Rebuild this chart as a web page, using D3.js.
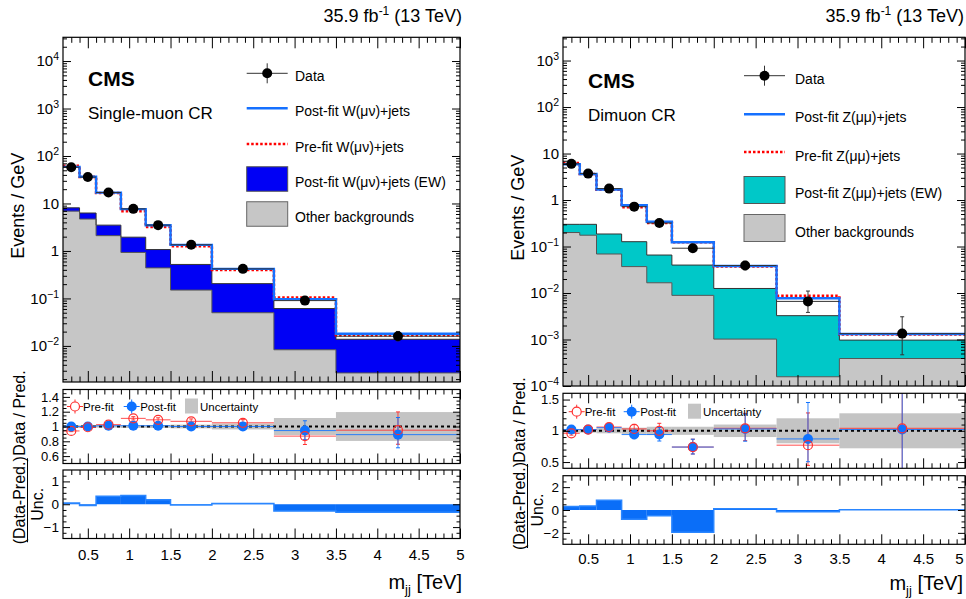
<!DOCTYPE html>
<html>
<head>
<meta charset="utf-8">
<script src="https://cdn.jsdelivr.net/npm/d3@7"></script>
<style>
  body { margin: 0; background: #fff; }
  svg { font-family: "Liberation Sans", Arial, Helvetica, sans-serif; display: block; }
</style>
</head>
<body>
<svg id="chart" width="966" height="599"></svg>
<script>
// ---- binning (TeV) ----
const binEdges   = [0.2, 0.4, 0.6, 0.9, 1.2, 1.5, 2.0, 2.75, 3.5, 5.0];
const binCenters = [0.3, 0.5, 0.75, 1.05, 1.35, 1.75, 2.375, 3.125, 4.25];
const xMajorTicks = [0.5, 1, 1.5, 2, 2.5, 3, 3.5, 4, 4.5, 5];
const xTickLabels = ["0.5", "1", "1.5", "2", "2.5", "3", "3.5", "4", "4.5", "5"];

// ---- single-muon control region (events / GeV) ----
const muData      = [58, 36, 17, 7.7, 3.5, 1.35, 0.42, 0.090, 0.016];
const muDataErrLo = [0.01, 0.012, 0.015, 0.02, 0.025, 0.03, 0.04, 0.13, 0.20];   // relative
const muDataErrHi = [0.01, 0.012, 0.015, 0.02, 0.025, 0.03, 0.04, 0.14, 0.26];   // relative
const muPostFit   = [59, 36.5, 16.9, 7.6, 3.47, 1.34, 0.42, 0.096, 0.018];
const muPreFit    = [62, 36.4, 16.6, 6.9, 3.2, 1.26, 0.40, 0.104, 0.0168];
const muEwk       = [1.2, 1.6, 1.4, 1.02, 0.63, 0.37, 0.155, 0.053, 0.0111];
const muOther     = [6.9, 4.7, 2.1, 0.93, 0.44, 0.15, 0.050, 0.0083, 0.0027];
const muRatioPost = [1.0, 1.0, 1.01, 1.01, 1.01, 1.0, 1.0, 0.945, 0.89];
const muRatioPre  = [0.94, 0.99, 1.025, 1.11, 1.09, 1.07, 1.05, 0.87, 0.95];
const muUnc       = [0.02, 0.015, 0.015, 0.02, 0.02, 0.025, 0.04, 0.115, 0.195];
const muPull      = [0.05, -0.05, 0.35, 0.38, 0.2, -0.03, 0.03, -0.3, -0.35];

// ---- dimuon control region (events / GeV) ----
const mmData      = [6.0, 3.7, 1.76, 0.72, 0.32, 0.092, 0.039, 0.0066, 0.00134];
const mmDataErrLo = [0.03, 0.04, 0.05, 0.07, 0.11, 0.15, 0.19, 0.42, 0.65];
const mmDataErrHi = [0.03, 0.04, 0.05, 0.07, 0.12, 0.17, 0.23, 0.67, 1.3];
const mmPostFit   = [5.9, 3.63, 1.68, 0.77, 0.34, 0.124, 0.038, 0.0077, 0.00131];
const mmPreFit    = [6.25, 3.63, 1.66, 0.70, 0.32, 0.124, 0.0375, 0.0087, 0.00129];
const mmEwk       = [0.10, 0.125, 0.117, 0.09, 0.049, 0.031, 0.0115, 0.0031, 0.00058];
const mmOther     = [0.20, 0.175, 0.069, 0.037, 0.0166, 0.0089, 0.00102, 0.000158, 0.00039];
const mmRatioPost = [1.02, 1.02, 1.05, 0.94, 0.94, 0.74, 1.03, 0.87, 1.02];
const mmRatioPre  = [0.96, 1.02, 1.06, 1.03, 1.0, 0.74, 1.04, 0.77, 1.04];
const mmUnc       = [0.03, 0.03, 0.04, 0.05, 0.065, 0.065, 0.1, 0.2, 0.28];
const mmPull      = [0.3, 0.35, 0.85, -0.8, -0.5, -1.95, 0.12, -0.15, 0.02];

const svg = d3.select("#chart");
let clipId = 0;

function stepPoints(vals) {
  return binEdges.map((e, i) => ({ x: e, v: vals[Math.min(i, vals.length - 1)] }));
}

function addClip(x0, y0, x1, y1) {
  const id = "clip" + (clipId++);
  svg.append("clipPath").attr("id", id)
    .append("rect").attr("x", x0).attr("y", y0).attr("width", x1 - x0).attr("height", y1 - y0);
  return "url(#" + id + ")";
}

// inward ticks on all four sides of a frame
function frameTicks(g, x, y, box, o) {
  const [x0, y0, x1, y1] = box;
  const strip = s => s.select(".domain").remove();
  const style = s => s.selectAll("line").attr("stroke", "#000").attr("stroke-width", 1);
  g.append("g").attr("transform", `translate(0,${y1})`)
    .call(d3.axisBottom(x).tickValues(xMajorTicks).tickSize(-o.xMaj).tickFormat(""))
    .call(strip).call(style);
  g.append("g").attr("transform", `translate(0,${y1})`)
    .call(d3.axisBottom(x).tickValues(o.xMinor).tickSize(-o.xMin).tickFormat(""))
    .call(strip).call(style);
  g.append("g").attr("transform", `translate(0,${y0})`)
    .call(d3.axisTop(x).tickValues(xMajorTicks).tickSize(-o.xMaj).tickFormat(""))
    .call(strip).call(style);
  g.append("g").attr("transform", `translate(0,${y0})`)
    .call(d3.axisTop(x).tickValues(o.xMinor).tickSize(-o.xMin).tickFormat(""))
    .call(strip).call(style);
  g.append("g").attr("transform", `translate(${x1},0)`)
    .call(d3.axisRight(y).tickValues(o.yMajor).tickSize(-o.yMaj).tickFormat(""))
    .call(strip).call(style);
  g.append("g").attr("transform", `translate(${x1},0)`)
    .call(d3.axisRight(y).tickValues(o.yMinor).tickSize(-o.yMin).tickFormat(""))
    .call(strip).call(style);
  g.append("g").attr("transform", `translate(${x0},0)`)
    .call(d3.axisLeft(y).tickValues(o.yMinor).tickSize(-o.yMin).tickFormat(""))
    .call(strip).call(style);
  const left = g.append("g").attr("transform", `translate(${x0},0)`)
    .call(d3.axisLeft(y).tickValues(o.yMajor).tickSize(-o.yMaj).tickPadding(o.yPad).tickFormat(o.yFormat || ""))
    .call(strip).call(style);
  left.selectAll("text").attr("fill", "#000").attr("font-size", o.yFont || 13)
    .attr("font-family", "Liberation Sans, Arial, sans-serif");
  g.append("rect").attr("x", x0).attr("y", y0).attr("width", x1 - x0).attr("height", y1 - y0)
    .attr("fill", "none").attr("stroke", "#000").attr("stroke-width", 1.2);
  return left;
}

const xMinorTicks = d3.range(3, 50).map(i => i / 10).filter(v => Math.abs(v * 2 - Math.round(v * 2)) > 1e-6);

function drawRegion(c) {
  const x = d3.scaleLinear().domain([binEdges[0], binEdges[binEdges.length - 1]]).range([c.x0, c.x1]);
  const g = svg.append("g");

  // ================= upper panel: stacked backgrounds, fit curves, data =================
  const [t0, t1] = c.top;
  const y = d3.scaleLog().domain(c.topDomain).range([t1, t0]);
  const gt = g.append("g").attr("clip-path", addClip(c.x0, t0, c.x1, t1));

  const stackTop = c.other.map((v, i) => v + c.ewk[i]);
  const areaFrom = (lowFn, vals) => d3.area().curve(d3.curveStepAfter)
    .x(d => x(d.x)).y0((d, i) => lowFn(i)).y1(d => y(d.v))(stepPoints(vals));
  const stepLine = vals => d3.line().curve(d3.curveStepAfter).x(d => x(d.x)).y(d => y(d.v))(stepPoints(vals));

  gt.append("path").attr("d", areaFrom(() => t1 + 5, c.other)).attr("fill", "#c6c6c6");
  const otherPts = stepPoints(c.other);
  gt.append("path").attr("d", areaFrom(i => y(otherPts[i].v), stackTop)).attr("fill", c.ewkColor);
  gt.append("path").attr("d", stepLine(stackTop)).attr("fill", "none").attr("stroke", "#333").attr("stroke-width", 1);
  gt.append("path").attr("d", stepLine(c.other)).attr("fill", "none").attr("stroke", "#555").attr("stroke-width", 1);

  gt.append("path").attr("d", stepLine(c.pre)).attr("fill", "none")
    .attr("stroke", "#ff0000").attr("stroke-width", 2.6).attr("stroke-dasharray", "2.5,2");
  gt.append("path").attr("d", stepLine(c.post)).attr("fill", "none")
    .attr("stroke", "#1570ff").attr("stroke-width", 2.4);

  const gd = gt.append("g");
  c.data.forEach((v, i) => {
    const cx = x(binCenters[i]);
    const yl = y(v * (1 - c.errLo[i])), yh = y(v * (1 + c.errHi[i]));
    gd.append("line").attr("x1", x(binEdges[i])).attr("x2", x(binEdges[i + 1]))
      .attr("y1", y(v)).attr("y2", y(v)).attr("stroke", "#333").attr("stroke-width", 1);
    gd.append("line").attr("x1", cx).attr("x2", cx).attr("y1", yl).attr("y2", yh)
      .attr("stroke", "#333").attr("stroke-width", 1);
    [yl, yh].forEach(yy => gd.append("line").attr("x1", cx - 2).attr("x2", cx + 2)
      .attr("y1", yy).attr("y2", yy).attr("stroke", "#333").attr("stroke-width", 1));
    gd.append("circle").attr("cx", cx).attr("cy", y(v)).attr("r", 5).attr("fill", "#000");
  });

  const lo = Math.floor(Math.log10(c.topDomain[0])), hi = Math.ceil(Math.log10(c.topDomain[1]));
  const decades = d3.range(lo, hi + 1).map(k => Math.pow(10, k)).filter(v => v >= c.topDomain[0] * 0.999 && v <= c.topDomain[1]);
  const logMinor = [];
  d3.range(lo, hi + 1).forEach(k => { for (let m = 2; m <= 9; m++) { const v = m * Math.pow(10, k); if (v > c.topDomain[0] && v < c.topDomain[1]) logMinor.push(v); } });
  const topAxis = frameTicks(g, x, y, [c.x0, t0, c.x1, t1], {
    xMaj: 11, xMin: 5.5, xMinor: xMinorTicks, yMajor: decades, yMinor: logMinor,
    yMaj: 8, yMin: 4, yPad: 4, yFont: 15, yFormat: () => "x"
  });
  topAxis.selectAll(".tick text").each(function (d) {
    const k = Math.round(Math.log10(d));
    const t = d3.select(this).text(null);
    if (k === 0) t.text("1");
    else if (k === 1) t.text("10");
    else {
      t.append("tspan").text("10");
      t.append("tspan").attr("dy", "-6").attr("font-size", 10.5).text(k < 0 ? "\u2212" + (-k) : String(k));
    }
  });

  // luminosity title, CMS label, legend
  const title = g.append("text").attr("x", c.titleX).attr("y", 22).attr("text-anchor", "end")
    .attr("font-size", 18).attr("fill", "#000");
  title.append("tspan").text("35.9 fb");
  title.append("tspan").attr("dy", -7).attr("font-size", 12).text("-1");
  title.append("tspan").attr("dy", 7).text(" (13 TeV)");

  g.append("text").attr("x", c.x0 + 25).attr("y", c.cmsY).attr("font-size", 21).attr("font-weight", "bold").text("CMS");
  g.append("text").attr("x", c.x0 + 25).attr("y", c.cmsY + 32.5).attr("font-size", 17).text(c.region);

  g.append("text").attr("transform", `translate(${c.x0 - 45},${(t0 + t1) / 2 - 4}) rotate(-90)`)
    .attr("text-anchor", "middle").attr("dominant-baseline", "central").attr("font-size", 18).text("Events / GeV");

  const L = c.leg;
  const lg = g.append("g");
  const lx0 = L.x, lx1 = L.x + 41;
  lg.append("line").attr("x1", lx0).attr("x2", lx1).attr("y1", L.ys[0]).attr("y2", L.ys[0]).attr("stroke", "#333");
  lg.append("line").attr("x1", (lx0 + lx1) / 2).attr("x2", (lx0 + lx1) / 2).attr("y1", L.ys[0] - 10).attr("y2", L.ys[0] + 10).attr("stroke", "#333");
  lg.append("circle").attr("cx", (lx0 + lx1) / 2).attr("cy", L.ys[0]).attr("r", 5).attr("fill", "#000");
  lg.append("line").attr("x1", lx0).attr("x2", lx1).attr("y1", L.ys[1]).attr("y2", L.ys[1]).attr("stroke", "#1570ff").attr("stroke-width", 2.4);
  lg.append("line").attr("x1", lx0).attr("x2", lx1).attr("y1", L.ys[2]).attr("y2", L.ys[2]).attr("stroke", "#ff0000").attr("stroke-width", 2.6).attr("stroke-dasharray", "2.5,2");
  lg.append("rect").attr("x", lx0).attr("y", L.ys[3] - L.boxH / 2).attr("width", 41).attr("height", L.boxH).attr("fill", c.ewkColor).attr("stroke", "#555");
  lg.append("rect").attr("x", lx0).attr("y", L.ys[4] - L.boxH / 2).attr("width", 41).attr("height", L.boxH).attr("fill", "#c6c6c6").attr("stroke", "#666");
  c.legendLabels.forEach((s, i) => lg.append("text").attr("x", L.tx).attr("y", L.ty[i] + 5)
    .attr("font-size", 14).text(s));

  // ================= ratio panel =================
  const [r0, r1] = c.ratio;
  const yr = d3.scaleLinear().domain(c.ratioDomain).range([r1, r0]);
  const gr = g.append("g").attr("clip-path", addClip(c.x0, r0, c.x1, r1));
  c.unc.forEach((u, i) => gr.append("rect").attr("x", x(binEdges[i])).attr("width", x(binEdges[i + 1]) - x(binEdges[i]))
    .attr("y", yr(1 + u)).attr("height", yr(1 - u) - yr(1 + u)).attr("fill", "#c4c4c4"));
  gr.append("line").attr("x1", c.x0).attr("x2", c.x1).attr("y1", yr(1)).attr("y2", yr(1))
    .attr("stroke", "#000").attr("stroke-width", 2).attr("stroke-dasharray", "3,3");

  function ratioBars(vals, color) {
    vals.forEach((r, i) => {
      const cx = x(binCenters[i]);
      const ylo = yr(r * (1 - c.errLo[i])), yhi = yr(r * (1 + c.errHi[i]));
      gr.append("line").attr("x1", x(binEdges[i])).attr("x2", x(binEdges[i + 1])).attr("y1", yr(r)).attr("y2", yr(r))
        .attr("stroke", color).attr("stroke-width", 1).attr("opacity", 0.85);
      gr.append("line").attr("x1", cx).attr("x2", cx).attr("y1", ylo).attr("y2", yhi)
        .attr("stroke", color).attr("stroke-width", 1).attr("opacity", 0.85);
      [ylo, yhi].forEach(yy => gr.append("line").attr("x1", cx - 2).attr("x2", cx + 2).attr("y1", yy).attr("y2", yy)
        .attr("stroke", color).attr("stroke-width", 1));
    });
  }
  function ratioMarkers(vals, color, open) {
    vals.forEach((r, i) => gr.append("circle").attr("cx", x(binCenters[i])).attr("cy", yr(r)).attr("r", open ? 4.5 : 5)
      .attr("fill", open ? "none" : color).attr("stroke", open ? color : "none").attr("stroke-width", 1.2));
  }
  ratioBars(c.ratioPre, "#ff3030");
  ratioBars(c.ratioPost, "#0f72ff");
  ratioMarkers(c.ratioPost, "#0f72ff", false);
  ratioMarkers(c.ratioPre, "#ff3030", true);

  frameTicks(g, x, yr, [c.x0, r0, c.x1, r1], {
    xMaj: 10, xMin: 5, xMinor: xMinorTicks, yMajor: c.ratioTicks, yMinor: c.ratioMinor,
    yMaj: 7, yMin: 3.5, yPad: 4, yFont: 13, yFormat: d => d === 1 ? "1" : d3.format(".1f")(d)
  });

  const RL = c.rleg;
  const rg = g.append("g").attr("font-size", 11.5);
  rg.append("line").attr("x1", RL.preX - 8).attr("x2", RL.preX + 8).attr("y1", RL.y).attr("y2", RL.y).attr("stroke", "#ff3030");
  rg.append("line").attr("x1", RL.preX).attr("x2", RL.preX).attr("y1", RL.y - 7).attr("y2", RL.y + 7).attr("stroke", "#ff3030");
  rg.append("circle").attr("cx", RL.preX).attr("cy", RL.y).attr("r", 4.5).attr("fill", "#fff").attr("stroke", "#ff3030").attr("stroke-width", 1.2);
  rg.append("text").attr("x", RL.preX + 8).attr("y", RL.y + 4).text("Pre-fit");
  rg.append("line").attr("x1", RL.postX - 8).attr("x2", RL.postX + 8).attr("y1", RL.y).attr("y2", RL.y).attr("stroke", "#0f72ff");
  rg.append("line").attr("x1", RL.postX).attr("x2", RL.postX).attr("y1", RL.y - 7).attr("y2", RL.y + 7).attr("stroke", "#0f72ff");
  rg.append("circle").attr("cx", RL.postX).attr("cy", RL.y).attr("r", 5).attr("fill", "#0f72ff");
  rg.append("text").attr("x", RL.postX + 8.5).attr("y", RL.y + 4).text("Post-fit");
  rg.append("rect").attr("x", RL.uncX).attr("y", RL.y - 8).attr("width", 13).attr("height", 15).attr("fill", "#c4c4c4");
  rg.append("text").attr("x", RL.uncX + 15).attr("y", RL.y + 4).text("Uncertainty");

  // ================= pull panel =================
  const [p0, p1] = c.pull;
  const yp = d3.scaleLinear().domain(c.pullDomain).range([p1, p0]);
  const gp = g.append("g").attr("clip-path", addClip(c.x0, p0, c.x1, p1));
  c.pullVals.forEach((v, i) => gp.append("rect").attr("x", x(binEdges[i])).attr("width", x(binEdges[i + 1]) - x(binEdges[i]))
    .attr("y", Math.min(yp(0), yp(v))).attr("height", Math.abs(yp(v) - yp(0))).attr("fill", "#0a6ef8"));
  gp.append("path").attr("d", d3.line().curve(d3.curveStepAfter).x(d => x(d.x)).y(d => yp(d.v))(stepPoints(c.pullVals)))
    .attr("fill", "none").attr("stroke", "#2a86ff").attr("stroke-width", 1.5);

  frameTicks(g, x, yp, [c.x0, p0, c.x1, p1], {
    xMaj: 10, xMin: 5, xMinor: xMinorTicks, yMajor: c.pullTicks, yMinor: c.pullMinor,
    yMaj: 7, yMin: 3.5, yPad: 4, yFont: 13.5, yFormat: d3.format("d")
  });

  // x tick labels (a label at the page edge is pulled inside)
  const xl = g.append("g").attr("transform", `translate(0,${p1})`)
    .call(d3.axisBottom(x).tickValues(xMajorTicks).tickSize(0).tickPadding(c.xLabelPad)
      .tickFormat((d, i) => xTickLabels[i]));
  xl.select(".domain").remove();
  xl.selectAll("text").attr("font-size", 15).attr("fill", "#000").attr("font-family", "Liberation Sans, Arial, sans-serif");
  xl.selectAll(".tick text").filter(d => x(d) + 5 > 964).attr("text-anchor", "end").attr("dx", 963 - x(5));

  const xt = g.append("text").attr("x", Math.min(c.x1 + 2, 963)).attr("y", c.xTitleY).attr("text-anchor", "end").attr("font-size", 20);
  xt.append("tspan").text("m");
  xt.append("tspan").attr("dy", 5).attr("font-size", 13).text("jj");
  xt.append("tspan").attr("dy", -5).text(" [TeV]");

  // ratio / pull axis titles
  const labX = c.x0 - 44;
  g.append("text").attr("transform", `translate(${labX},${c.ratioLabelY}) rotate(-90)`)
    .attr("text-anchor", "middle").attr("dominant-baseline", "central").attr("font-size", 16).text("Data / Pred.");
  g.append("text").attr("transform", `translate(${labX},${(p0 + p1) / 2 - 4}) rotate(-90)`)
    .attr("text-anchor", "middle").attr("dominant-baseline", "central").attr("font-size", 16).text("(Data-Pred.)");
  g.append("line").attr("x1", labX + 8.5).attr("x2", labX + 8.5).attr("y1", (p0 + p1) / 2 - 46).attr("y2", (p0 + p1) / 2 + 38)
    .attr("stroke", "#000").attr("stroke-width", 1);
  g.append("text").attr("transform", `translate(${labX + 18},${(p0 + p1) / 2}) rotate(-90)`)
    .attr("text-anchor", "middle").attr("dominant-baseline", "central").attr("font-size", 16).text("Unc.");
}

drawRegion({
  x0: 63, x1: 460, top: [37.3, 382], topDomain: [Math.pow(10, -2.76), Math.pow(10, 4.5)],
  ratio: [389.5, 463.5], ratioDomain: [0.5, 1.5], ratioTicks: [0.6, 0.8, 1, 1.2, 1.4],
  ratioMinor: [0.55, 0.65, 0.7, 0.75, 0.85, 0.9, 0.95, 1.05, 1.1, 1.15, 1.25, 1.3, 1.35, 1.45],
  pull: [470, 538.5], pullDomain: [-1.5, 1.5], pullTicks: [-1, 0, 1], pullMinor: [-1.25, -0.75, -0.5, -0.25, 0.25, 0.5, 0.75, 1.25],
  data: muData, errLo: muDataErrLo, errHi: muDataErrHi, post: muPostFit, pre: muPreFit,
  ewk: muEwk, other: muOther, ewkColor: "#0000f5",
  ratioPost: muRatioPost, ratioPre: muRatioPre, unc: muUnc, pullVals: muPull,
  titleX: 462, cmsY: 86, region: "Single-muon CR",
  leg: { x: 246.7, ys: [73.3, 108.3, 144, 179, 214], boxH: 24.5, tx: 295, ty: [76, 111, 147, 182, 216.7] },
  legendLabels: ["Data", "Post-fit W(\u03bc\u03bd)+jets", "Pre-fit W(\u03bc\u03bd)+jets", "Post-fit W(\u03bc\u03bd)+jets (EW)", "Other backgrounds"],
  rleg: { y: 406.5, preX: 75, postX: 131.7, uncX: 185 },
  xLabelPad: 11, xTitleY: 589, ratioLabelY: 413
});

drawRegion({
  x0: 563, x1: 965, top: [37.3, 386], topDomain: [1e-4, Math.pow(10, 3.5)],
  ratio: [393.3, 468.3], ratioDomain: [0.4, 1.6], ratioTicks: [0.5, 1, 1.5],
  ratioMinor: [0.6, 0.7, 0.8, 0.9, 1.1, 1.2, 1.3, 1.4],
  pull: [475.7, 544.3], pullDomain: [-3, 3], pullTicks: [-2, 0, 2], pullMinor: [-2.5, -1.5, -1, -0.5, 0.5, 1, 1.5, 2.5],
  data: mmData, errLo: mmDataErrLo, errHi: mmDataErrHi, post: mmPostFit, pre: mmPreFit,
  ewk: mmEwk, other: mmOther, ewkColor: "#00c8c8",
  ratioPost: mmRatioPost, ratioPre: mmRatioPre, unc: mmUnc, pullVals: mmPull,
  titleX: 964, cmsY: 88, region: "Dimuon CR",
  leg: { x: 744, ys: [75.7, 114.3, 152, 190, 228], boxH: 27, tx: 795, ty: [79, 117.3, 155.7, 193.3, 231.7] },
  legendLabels: ["Data", "Post-fit Z(\u03bc\u03bc)+jets", "Pre-fit Z(\u03bc\u03bc)+jets", "Post-fit Z(\u03bc\u03bc)+jets (EW)", "Other backgrounds"],
  rleg: { y: 411.7, preX: 576.7, postX: 631.7, uncX: 688 },
  xLabelPad: 9, xTitleY: 590, ratioLabelY: 420
});
</script>
</body>
</html>
